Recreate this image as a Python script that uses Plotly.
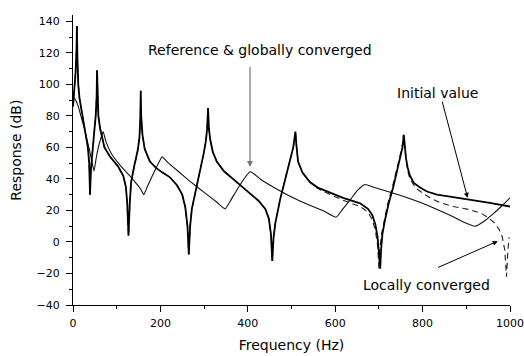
import plotly.graph_objects as go

# ---- data ----
init_freq = [0, 3, 6, 8, 9, 10, 12, 15, 20, 25, 30, 34, 37, 39, 41, 44, 48, 52, 54, 55, 56, 58, 62, 65, 72, 85,
             103, 115, 121, 124, 127, 130, 133, 140, 148, 152, 154, 155, 156, 159, 164, 176, 190, 205, 222, 238,
             250, 257, 262, 265, 268, 272, 283, 292, 299, 304, 307, 309, 311, 314, 320, 329, 345, 366, 385, 405,
             425, 440, 448, 453, 456, 459, 463, 474, 489, 498, 504, 507, 509, 511, 515, 525, 542, 560, 581, 618,
             657, 675, 685, 692, 697, 701, 703, 705, 708, 714, 722, 733, 742, 749, 754, 757, 759, 762, 766, 771,
             780, 794, 810, 833, 870, 908, 950, 1000]
init_db = [86, 95, 108, 122, 137, 118, 100, 91, 83, 76, 68, 60, 50, 30, 46, 58, 68, 80, 92, 109, 92, 80, 72, 68, 60, 54,
           48, 42, 35, 25, 4, 25, 38, 48, 58, 66, 78, 96, 80, 68, 59, 51, 47, 44, 41, 36,
           30, 22, 10, -8, 10, 21, 35, 46, 56, 64, 72, 85, 72, 65, 57, 51, 45, 40, 35.5, 31,
           26, 21, 15, 5, -12, 3, 12, 27, 44, 53, 60, 66, 70, 62, 51, 44, 38, 34.5, 32, 28,
           24.5, 21, 17, 11, 3, -8, -17, -5, 5, 14, 24, 35, 45, 53, 60, 68, 62, 53, 47, 42,
           37.5, 34.6, 32, 30, 28.5, 27, 25, 22.5]

local_tail_freq = [560, 581, 618, 657, 675, 685, 692, 697, 700, 702, 706, 712, 720, 731, 740, 747, 753, 756, 758,
                   761, 765, 771, 785, 800, 817, 840, 870, 908, 935, 950, 965, 975, 982, 988, 992, 995, 998]
local_tail_db = [34, 31, 26.5, 22.5, 19, 14, 7, -2, -17, -5, 5, 14, 24, 35, 45, 53, 60, 68, 62,
                 53, 46, 40, 34, 31, 28, 25, 22.5, 20.5, 18, 15.5, 12, 8, 3.5, -5, -22, -6, 3]

ref_freq = [0, 6, 12, 18, 25, 32, 38, 44, 48, 53, 58, 64, 69, 75, 88, 110, 130, 145, 155, 162, 170, 180, 192, 204,
            215, 240, 270, 300, 330, 348, 360, 375, 390, 405, 415, 430, 460, 500, 540, 575, 602, 615, 635, 652,
            668, 690, 720, 755, 800, 833, 870, 895, 920, 940, 960, 980, 1000]
ref_db = [92, 90, 86, 80, 73, 65, 58, 50, 45, 53, 60, 66, 70, 64, 56, 48, 42, 37, 33.5, 30, 35, 41, 48, 54,
          51, 45, 38, 31.5, 25, 21, 26, 33, 39.5, 44.5, 43, 39.6, 34.5, 28.5, 23.5, 19.5, 15.7, 20, 27, 33,
          36.5, 34.5, 32, 29, 24.5, 20.6, 16, 12.5, 10, 13, 17.5, 22.5, 28]

# locally converged follows the initial curve at low frequency
local_freq = [f for f in init_freq if f < local_tail_freq[0]] + local_tail_freq
local_db = [d for f, d in zip(init_freq, init_db) if f < local_tail_freq[0]] + local_tail_db

FONT = "DejaVu Sans"

fig = go.Figure()
fig.add_trace(go.Scatter(x=ref_freq, y=ref_db, mode="lines",
                         line=dict(color="#111111", width=1.1, shape="spline", smoothing=0.4),
                         name="Reference & globally converged"))
fig.add_trace(go.Scatter(x=local_freq, y=local_db, mode="lines",
                         line=dict(color="#222222", width=1.1, dash="6px,4px"), name="Locally converged"))
fig.add_trace(go.Scatter(x=init_freq, y=init_db, mode="lines",
                         line=dict(color="#000000", width=1.8), name="Initial value"))

ann_font = dict(family=FONT, size=14, color="black")
fig.add_annotation(x=428, y=121.6, text="Reference & globally converged", showarrow=False, font=ann_font,
                   xref="x", yref="y")
fig.add_annotation(x=405, y=47.5, ax=405, ay=112, axref="x", ayref="y", xref="x", yref="y", text="",
                   showarrow=True, arrowhead=2, arrowsize=1, arrowwidth=1.2, arrowcolor="#777777")
fig.add_annotation(x=834, y=94.5, text="Initial value", showarrow=False, font=ann_font, xref="x", yref="y")
fig.add_annotation(x=903, y=28, ax=844, ay=90, axref="x", ayref="y", xref="x", yref="y", text="",
                   showarrow=True, arrowhead=2, arrowsize=1, arrowwidth=1, arrowcolor="black")
fig.add_annotation(x=808, y=-27.3, text="Locally converged", showarrow=False, font=ann_font, xref="x", yref="y")
fig.add_annotation(x=972, y=0.5, ax=832, ay=-16.6, axref="x", ayref="y", xref="x", yref="y", text="",
                   showarrow=True, arrowhead=2, arrowsize=1, arrowwidth=1, arrowcolor="black")
fig.add_annotation(x=-0.152, y=0.534, xref="paper", yref="paper", text="Response (dB)", textangle=-90,
                   showarrow=False, font=ann_font)

axis_common = dict(showline=True, linecolor="black", linewidth=1.3, ticks="outside", ticklen=6, tickwidth=1,
                   tickcolor="black", showgrid=False, zeroline=False, mirror=False, automargin=False,
                   tickfont=dict(family=FONT, size=11, color="black"))
fig.update_xaxes(range=[0, 1000], dtick=200, tick0=0, ticklabelstandoff=2,
                 minor=dict(dtick=100, ticks="outside", ticklen=3, tickcolor="black", showgrid=False),
                 title=dict(text="Frequency (Hz)", font=ann_font, standoff=10), **axis_common)
fig.update_yaxes(range=[-40, 144], dtick=20, tick0=0, ticklabelstandoff=4,
                 minor=dict(dtick=10, ticks="outside", ticklen=3, tickcolor="black", showgrid=False),
                 **axis_common)

fig.update_layout(width=524, height=356, autosize=False, showlegend=False,
                  margin=dict(l=73, r=14, t=15, b=51, autoexpand=False),
                  paper_bgcolor="white", plot_bgcolor="white",
                  font=dict(family=FONT, color="black"))

fig.write_html("out.html")
